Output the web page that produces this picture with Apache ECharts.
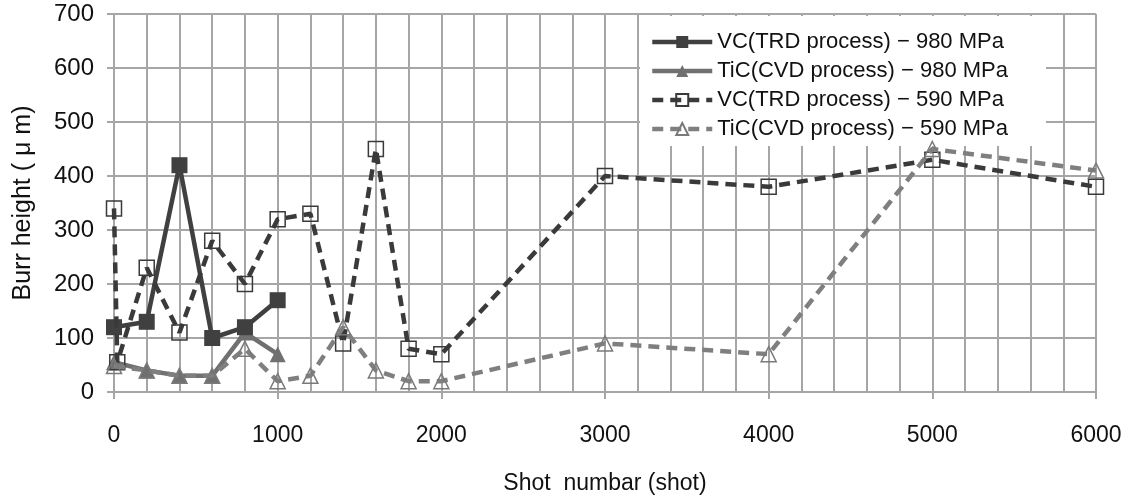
<!DOCTYPE html>
<html>
<head>
<meta charset="utf-8">
<script src="https://cdn.jsdelivr.net/npm/echarts@6/dist/echarts.min.js"></script>
<style>
  html, body { margin: 0; padding: 0; background: #fff; }
  #chart { width: 1128px; height: 495px; }
</style>
</head>
<body>
<div id="chart"></div>
<script>
// 各シリーズのデータ [shot, burr height]
var vcTrd980  = [[0, 120], [200, 130], [400, 420], [600, 100], [800, 120], [1000, 170]];
var ticCvd980 = [[0, 55], [200, 40], [400, 30], [600, 30], [800, 110], [1000, 70]];
var vcTrd590  = [[0, 340], [20, 55], [200, 230], [400, 110], [600, 280], [800, 200], [1000, 320],
                 [1200, 330], [1400, 90], [1600, 450], [1800, 80], [2000, 70], [3000, 400],
                 [4000, 380], [5000, 430], [6000, 380]];
var ticCvd590 = [[0, 48], [200, 40], [400, 30], [600, 30], [800, 80], [1000, 20], [1200, 30],
                 [1400, 120], [1600, 40], [1800, 20], [2000, 20], [3000, 90], [4000, 70],
                 [5000, 450], [6000, 410]];
var seriesNames = [
  'VC(TRD process) − 980 MPa',
  'TiC(CVD process) − 980 MPa',
  'VC(TRD process) − 590 MPa',
  'TiC(CVD process) − 590 MPa'
];

var font = '"Liberation Sans", Arial, sans-serif';
var gridColor = '#a6a6a6';

var myChart = echarts.init(document.getElementById('chart'));

var option = {
  backgroundColor: '#fff',
  animation: false,
  grid: { left: 114, right: 32, top: 14, bottom: 103, containLabel: false, outerBoundsMode: 'none' },
  legend: {
    orient: 'vertical',
    left: 640,
    top: 16,
    width: 415,
    padding: [15, 38, 6, 10],
    backgroundColor: '#fff',
    itemWidth: 60,
    itemHeight: 15,
    itemGap: 7,
    textStyle: { fontFamily: font, fontSize: 22, color: '#111' },
    data: [
      { name: seriesNames[0], lineStyle: { width: 4.5 } },
      { name: seriesNames[1], lineStyle: { width: 4.5 } },
      { name: seriesNames[2], lineStyle: { width: 4.5 } },
      { name: seriesNames[3], lineStyle: { width: 4.5 } }
    ]
  },
  xAxis: {
    type: 'value',
    min: 0,
    max: 6000,
    interval: 1000,
    axisLine: { show: true, lineStyle: { color: gridColor, width: 2 } },
    axisTick: { show: true, length: 7, lineStyle: { color: gridColor, width: 2 } },
    axisLabel: {
      fontFamily: font, fontSize: 23, color: '#111', margin: 32,
      formatter: function (v) { return String(v); }
    },
    splitLine: { show: true, lineStyle: { color: gridColor, width: 2 } },
    minorTick: { show: false, splitNumber: 5 },
    minorSplitLine: { show: true, lineStyle: { color: gridColor, width: 2 } },
    name: 'Shot  numbar (shot)',
    nameLocation: 'middle',
    nameGap: 80,
    nameTextStyle: { fontFamily: font, fontSize: 23, color: '#111' }
  },
  yAxis: {
    type: 'value',
    min: 0,
    max: 700,
    interval: 100,
    axisLine: { show: true, lineStyle: { color: gridColor, width: 2 } },
    axisTick: { show: true, length: 7, lineStyle: { color: gridColor, width: 2 } },
    axisLabel: { fontFamily: font, fontSize: 24, color: '#111', margin: 20 },
    splitLine: { show: true, lineStyle: { color: gridColor, width: 2 } },
    name: 'Burr height ( μ m)',
    nameLocation: 'middle',
    nameGap: 78,
    nameTextStyle: { fontFamily: font, fontSize: 25, color: '#111' }
  },
  series: [
    {
      name: seriesNames[0],
      type: 'line',
      data: vcTrd980,
      symbol: 'rect',
      symbolSize: 16,
      itemStyle: { color: '#404040' },
      lineStyle: { color: '#404040', width: 4.5 },
      z: 4
    },
    {
      name: seriesNames[1],
      type: 'line',
      data: ticCvd980,
      symbol: 'triangle',
      symbolSize: 16,
      itemStyle: { color: '#707070' },
      lineStyle: { color: '#707070', width: 4.5 },
      z: 3
    },
    {
      name: seriesNames[2],
      type: 'line',
      data: vcTrd590,
      symbol: 'rect',
      symbolSize: 15,
      itemStyle: { color: 'rgba(255,255,255,0)', borderColor: '#3a3a3a', borderWidth: 1.5 },
      lineStyle: { color: '#3a3a3a', width: 4.5, type: [11, 7] },
      z: 5
    },
    {
      name: seriesNames[3],
      type: 'line',
      data: ticCvd590,
      symbol: 'triangle',
      symbolSize: 15,
      itemStyle: { color: 'rgba(255,255,255,0)', borderColor: '#7a7a7a', borderWidth: 1.5 },
      lineStyle: { color: '#7f7f7f', width: 4.5, type: [11, 7] },
      z: 6
    }
  ]
};

myChart.setOption(option);
</script>
</body>
</html>
